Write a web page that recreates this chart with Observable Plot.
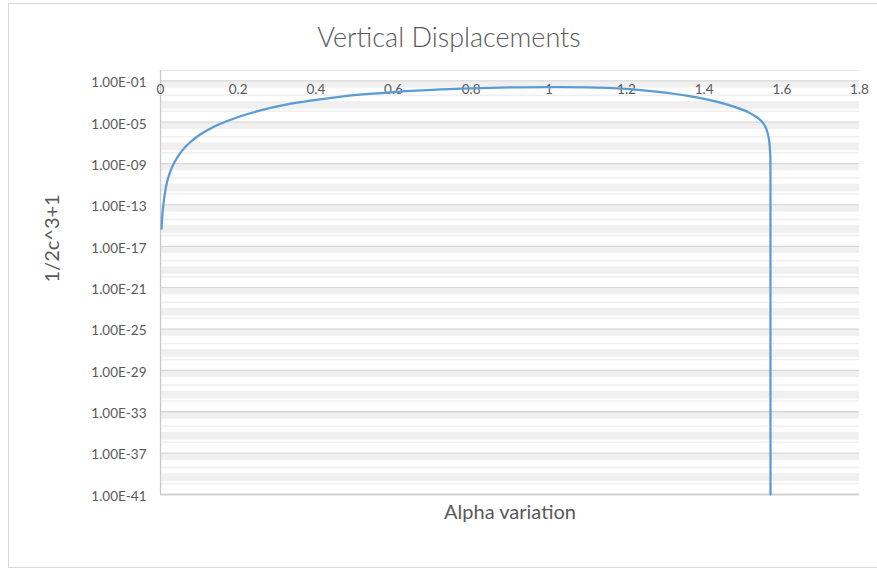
<!DOCTYPE html>
<html>
<head>
<meta charset="utf-8">
<script src="https://cdn.jsdelivr.net/npm/d3@7"></script>
<script src="https://cdn.jsdelivr.net/npm/@observablehq/plot@0.6"></script>
<style>
  html, body { margin: 0; padding: 0; background: #ffffff; }
  #wrap { position: relative; width: 877px; height: 570px; overflow: hidden; }
  #border { position: absolute; left: 8px; top: 3px; width: 880px; height: 565px; border: 1px solid #d9d9d9; box-sizing: border-box; }
  #chart { position: absolute; left: 0; top: 0; }
</style>
</head>
<body>
<div id="wrap"><div id="border"></div><div id="chart"></div></div>
<script>
const title = "Vertical Displacements";
const xTitle = "Alpha variation";
const yTitle = "1/2c^3+1";

const xTicks = [0, 0.2, 0.4, 0.6, 0.8, 1, 1.2, 1.4, 1.6, 1.8];
const yTicks = [1e-41, 1e-37, 1e-33, 1e-29, 1e-25, 1e-21, 1e-17, 1e-13, 1e-9, 1e-5, 1e-1];

const alpha = [0.0028, 0.004, 0.0077, 0.0125, 0.0172, 0.025, 0.0343, 0.045, 0.060, 0.08,
  0.103, 0.135, 0.172, 0.21, 0.2575, 0.32, 0.386, 0.45, 0.52, 0.6,
  0.7, 0.8, 0.9, 1.0, 1.1, 1.2, 1.3, 1.4, 1.476, 1.519,
  1.553, 1.566, 1.5705, 1.5707, 1.57079];
const value = [5.0e-16, 4.0e-15, 1.26e-13, 2.5e-12, 1.8e-11, 1.6e-10, 1.0e-9, 5.0e-9, 2.8e-8, 1.5e-7,
  6.8e-7, 3.3e-6, 1.3e-5, 4.2e-5, 1.4e-4, 4.7e-4, 1.2e-3, 2.5e-3, 4.8e-3, 8.3e-3,
  1.35e-2, 1.86e-2, 2.3e-2, 2.5e-2, 2.35e-2, 1.66e-2, 7.1e-3, 1.8e-3, 3.2e-4, 7.1e-5,
  7.1e-6, 3.5e-7, 4.0e-9, 1.0e-11, 1.0e-41];

const data = alpha.map((a, i) => ({alpha: a, value: value[i]}));

// light minor grid pattern between the major gridlines (decade offsets below each major)
const bandStarts = [3, -1, -5, -9, -13, -17, -21, -25, -29, -33, -37];
const bands = [];
const thin = [];
for (const e of bandStarts) {
  bands.push({lo: Math.pow(10, e - 0.7), hi: Math.pow(10, e - 0.1)});
  bands.push({lo: Math.pow(10, e - 2.75), hi: Math.pow(10, e - 2.0)});
  thin.push(Math.pow(10, e - 1.4));
  thin.push(Math.pow(10, e - 2.95));
}
const yMin = 1e-41, yMax = 1;
const bandsIn = bands.filter(b => b.hi > yMin && b.lo < yMax)
  .map(b => ({lo: Math.max(b.lo, yMin), hi: Math.min(b.hi, yMax)}));
const thinIn = thin.filter(v => v > yMin && v <= yMax);

function fmtE(d) {
  const e = Math.round(Math.log10(d));
  return "1.00E" + (e < 0 ? "-" : "+") + String(Math.abs(e)).padStart(2, "0");
}

const txt = "#595959";
const chart = Plot.plot({
  width: 877,
  height: 570,
  marginLeft: 160,
  marginRight: 18,
  marginTop: 70,
  marginBottom: 76,
  style: {fontFamily: "Lato, 'Open Sans', sans-serif", background: "transparent", color: txt},
  x: {domain: [0, 1.8], axis: null},
  y: {type: "log", domain: [yMin, yMax]},
  marks: [
    Plot.rect(bandsIn, {y1: "lo", y2: "hi", fill: "#f0f0f0"}),
    Plot.ruleY(thinIn, {stroke: "#efefef", strokeWidth: 1.5}),
    Plot.ruleY(yTicks, {stroke: "#d6d6d6", strokeWidth: 1.3}),
    Plot.ruleY([yMax], {stroke: "#e6e6e6"}),
    Plot.ruleY([yMin], {stroke: "#d0d0d0", strokeWidth: 1.3}),
    Plot.ruleX([0], {stroke: "#c8c8c8", strokeWidth: 1.3}),
    Plot.axisY(yTicks, {tickSize: 0, tickPadding: 14, tickFormat: fmtE, fontSize: 13.5, fill: txt, label: null, dy: 2}),
    Plot.text(xTicks, {x: d => d, frameAnchor: "top", lineAnchor: "middle", dy: 19, text: d => String(d), fontSize: 13.5, fill: txt}),
    Plot.line(data, {x: "alpha", y: "value", stroke: "#5b9bd5", strokeWidth: 2.25, curve: "monotone-x"}),
    Plot.text([title], {frameAnchor: "top", lineAnchor: "middle", dx: -61, dy: -32, fontSize: 27, fontWeight: 300, fill: txt}),
    Plot.text([xTitle], {frameAnchor: "bottom", lineAnchor: "middle", dy: 18, fontSize: 20, fill: txt}),
    Plot.text([yTitle], {frameAnchor: "left", lineAnchor: "middle", dx: -108, rotate: -90, fontSize: 20, fill: txt})
  ]
});
document.getElementById("chart").appendChild(chart);
</script>
</body>
</html>
